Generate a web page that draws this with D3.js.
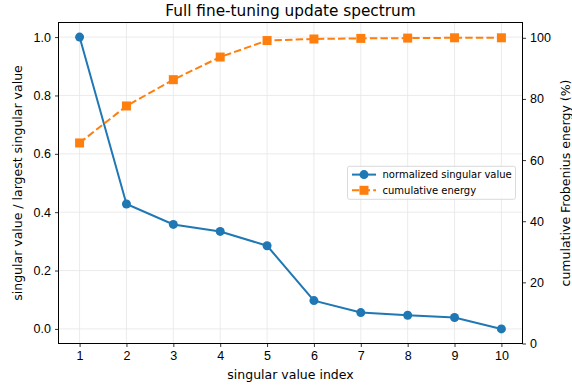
<!DOCTYPE html>
<html>
<head>
<meta charset="utf-8">
<script src="https://cdn.jsdelivr.net/npm/d3@7"></script>
<style>
  body { margin: 0; background: #fff; }
  svg { font-family: "DejaVu Sans", sans-serif; }
</style>
</head>
<body>
<svg id="svg"></svg>
<script>
// data
const indices = [1, 2, 3, 4, 5, 6, 7, 8, 9, 10];
const singularValues = [1.0, 0.428, 0.358, 0.334, 0.285, 0.097, 0.056, 0.047, 0.039, 0.0];
const cumulativeEnergy = [65.6, 77.7, 86.3, 93.7, 99.1, 99.6, 99.8, 99.9, 100, 100];
const leftTicks = [0.0, 0.2, 0.4, 0.6, 0.8, 1.0];
const rightTicks = [0, 20, 40, 60, 80, 100];

const width = 572;
const height = 390;

const margin = { top: 22.5, left: 58.5, bottom: 46.5, right: 49.5 };

const blue = "#1f77b4";
const orange = "#ff7f0e";

const svg = d3.select("#svg").attr("width", width).attr("height", height);

const x = d3.scaleLinear()
    .domain([0.55, 10.45])
    .range([margin.left, width - margin.right]);

const yL = d3.scaleLinear()
    .domain([-0.05, 1.05])
    .range([height - margin.bottom, margin.top]);

const yR = d3.scaleLinear()
    .domain([0, 105])
    .range([height - margin.bottom, margin.top]);

// grid (left axis only)
const gGrid = svg.append("g").attr("stroke", "#e6e6e6").attr("stroke-width", 0.8);
gGrid.selectAll("line.vx")
    .data(indices)
    .join("line")
    .attr("x1", (d) => x(d)).attr("x2", (d) => x(d))
    .attr("y1", margin.top).attr("y2", height - margin.bottom);
gGrid.selectAll("line.hy")
    .data(leftTicks)
    .join("line")
    .attr("y1", (d) => yL(d)).attr("y2", (d) => yL(d))
    .attr("x1", margin.left).attr("x2", width - margin.right);

// axes
function styleAxis(g) {
  g.select(".domain").remove();
  g.selectAll(".tick line").attr("stroke", "#000").attr("stroke-width", 0.8);
  g.selectAll(".tick text").attr("fill", "#000").style("font-size", "12.5px");
}

svg.append("g")
    .attr("transform", `translate(0,${height - margin.bottom})`)
    .call(d3.axisBottom(x).tickValues(indices).tickSize(3.5).tickPadding(4).tickFormat(d3.format("d")))
    .call(styleAxis);

svg.append("g")
    .attr("transform", `translate(${margin.left},0)`)
    .call(d3.axisLeft(yL).tickValues(leftTicks).tickSize(3.5).tickPadding(4).tickFormat(d3.format(".1f")))
    .call(styleAxis);

svg.append("g")
    .attr("transform", `translate(${width - margin.right},0)`)
    .call(d3.axisRight(yR).tickValues(rightTicks).tickSize(3.5).tickPadding(4).tickFormat(d3.format("d")))
    .call(styleAxis);

// frame
svg.append("rect")
    .attr("x", margin.left)
    .attr("y", margin.top)
    .attr("width", width - margin.left - margin.right)
    .attr("height", height - margin.top - margin.bottom)
    .attr("fill", "none")
    .attr("stroke", "#000")
    .attr("stroke-width", 1);

// blue series
const lineL = d3.line().x((d, i) => x(indices[i])).y((d) => yL(d));
svg.append("path")
    .datum(singularValues)
    .attr("d", lineL)
    .attr("fill", "none")
    .attr("stroke", blue)
    .attr("stroke-width", 2);
svg.append("g").selectAll("circle")
    .data(singularValues)
    .join("circle")
    .attr("cx", (d, i) => x(indices[i]))
    .attr("cy", (d) => yL(d))
    .attr("r", 4.5)
    .attr("fill", blue);

// orange series
const lineR = d3.line().x((d, i) => x(indices[i])).y((d) => yR(d));
svg.append("path")
    .datum(cumulativeEnergy)
    .attr("d", lineR)
    .attr("fill", "none")
    .attr("stroke", orange)
    .attr("stroke-width", 2)
    .attr("stroke-dasharray", "7.4,3.2");
svg.append("g").selectAll("rect")
    .data(cumulativeEnergy)
    .join("rect")
    .attr("x", (d, i) => x(indices[i]) - 4.5)
    .attr("y", (d) => yR(d) - 4.5)
    .attr("width", 9)
    .attr("height", 9)
    .attr("fill", orange);

// labels
svg.append("text")
    .attr("x", (margin.left + width - margin.right) / 2)
    .attr("y", 16.3)
    .attr("text-anchor", "middle")
    .style("font-size", "15.3px")
    .text("Full fine-tuning update spectrum");

svg.append("text")
    .attr("x", (margin.left + width - margin.right) / 2)
    .attr("y", 378.5)
    .attr("text-anchor", "middle")
    .style("font-size", "12.5px")
    .text("singular value index");

svg.append("text")
    .attr("transform", `translate(22,${(margin.top + height - margin.bottom) / 2}) rotate(-90)`)
    .attr("text-anchor", "middle")
    .style("font-size", "12.5px")
    .text("singular value / largest singular value");

svg.append("text")
    .attr("transform", `translate(569.5,${(margin.top + height - margin.bottom) / 2}) rotate(-90)`)
    .attr("text-anchor", "middle")
    .style("font-size", "12.5px")
    .text("cumulative Frobenius energy (%)");

// legend
const legend = svg.append("g").attr("transform", "translate(347.5,166.3)");
legend.append("rect")
    .attr("width", 168)
    .attr("height", 33)
    .attr("rx", 2)
    .attr("fill", "#fff")
    .attr("fill-opacity", 0.8)
    .attr("stroke", "#d0d0d0")
    .attr("stroke-width", 0.8);

const legendItems = [
  { label: "normalized singular value", color: blue, shape: "circle", dash: null },
  { label: "cumulative energy", color: orange, shape: "square", dash: "7.4,3.2" },
];

legendItems.forEach((item, i) => {
  const yy = 8.3 + i * 15.7;
  legend.append("line")
      .attr("x1", 4.5).attr("x2", 28.5)
      .attr("y1", yy).attr("y2", yy)
      .attr("stroke", item.color)
      .attr("stroke-width", 2)
      .attr("stroke-dasharray", item.dash);
  if (item.shape === "circle") {
    legend.append("circle").attr("cx", 16.5).attr("cy", yy).attr("r", 4.5).attr("fill", item.color);
  } else {
    legend.append("rect").attr("x", 12).attr("y", yy - 4.5).attr("width", 9).attr("height", 9).attr("fill", item.color);
  }
  legend.append("text")
      .attr("x", 35)
      .attr("y", yy + 3.6)
      .style("font-size", "10px")
      .text(item.label);
});
</script>
</body>
</html>
